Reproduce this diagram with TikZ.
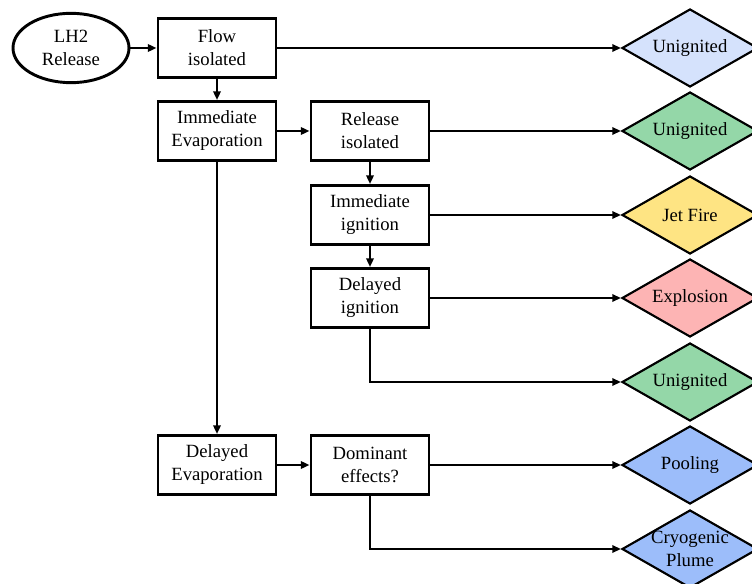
\documentclass[tikz,border=0pt]{standalone}
\usepackage{fontspec}
\setmainfont{Liberation Serif}
\usepackage{xcolor}
\usetikzlibrary{shapes.geometric, arrows.meta, positioning}
\definecolor{PaleBlue}{HTML}{D5E2FC}
\definecolor{LeafGreen}{HTML}{94D7A8}
\definecolor{Butter}{HTML}{FEE483}
\definecolor{Salmon}{HTML}{FDB4B4}
\definecolor{Cornflower}{HTML}{9CBDFA}
\newcommand{\treefont}{\fontsize{14}{17.25}\selectfont}

\begin{document}
\begin{tikzpicture}[x=0.75pt, y=-0.75pt,
    event/.style={rectangle, draw, line width=2.2pt, fill=white,
          minimum width=88.5pt, minimum height=44.25pt,
          inner sep=2pt, align=center, font=\treefont},
    outcome/.style={diamond, draw, line width=1.6pt,
          minimum width=102pt, minimum height=58.5pt, inner sep=0pt,
          label={[font=\treefont, align=center]center:#1}},
    flow/.style={-{Triangle[length=6.5pt,width=5.5pt]}, line width=1.6pt}]
    \useasboundingbox (0,0) rectangle (752,584);

    % Initiating event and first branch
    \node[ellipse, draw, line width=2.2pt, minimum width=87pt, minimum height=52pt,
          inner sep=1pt, align=center, font=\treefont] (release) at (71,48) {LH2\\Release};
    \node[event] (flowiso) at (217,48) {Flow\\isolated};
    \node[event] (immevap) at (217,131) {Immediate\\Evaporation};
    \node[event] (deevap) at (217,465) {Delayed\\Evaporation};

    % Second column
    \node[event] (reliso) at (370,131) {Release\\isolated};
    \node[event] (immign) at (370,215) {Immediate\\ignition};
    \node[event] (delign) at (370,298) {Delayed\\ignition};
    \node[event] (domeff) at (370,465) {Dominant\\effects?};

    % Outcomes
    \node[outcome={Unignited}, fill=PaleBlue] (out1) at (690,48) {};
    \node[outcome={Unignited}, fill=LeafGreen] (out2) at (690,131) {};
    \node[outcome={Jet Fire}, fill=Butter] (out3) at (690,215) {};
    \node[outcome={Explosion}, fill=Salmon] (out4) at (690,298) {};
    \node[outcome={Unignited}, fill=LeafGreen] (out5) at (690,382) {};
    \node[outcome={Pooling}, fill=Cornflower] (out6) at (690,465) {};
    \node[outcome={Cryogenic\\Plume}, fill=Cornflower] (out7) at (690,549) {};

    % Connectors
    \draw[flow] (release.east) -- (flowiso.west);
    \draw[flow] (flowiso.east) -- (out1.west);
    \draw[flow] (flowiso.south) -- (immevap.north);
    \draw[flow] (immevap.east) -- (reliso.west);
    \draw[flow] (immevap.south) -- (deevap.north);
    \draw[flow] (reliso.east) -- (out2.west);
    \draw[flow] (reliso.south) -- (immign.north);
    \draw[flow] (immign.east) -- (out3.west);
    \draw[flow] (immign.south) -- (delign.north);
    \draw[flow] (delign.east) -- (out4.west);
    \draw[flow] (delign.south) |- (out5.west);
    \draw[flow] (deevap.east) -- (domeff.west);
    \draw[flow] (domeff.east) -- (out6.west);
    \draw[flow] (domeff.south) |- (out7.west);
\end{tikzpicture}
\end{document}
